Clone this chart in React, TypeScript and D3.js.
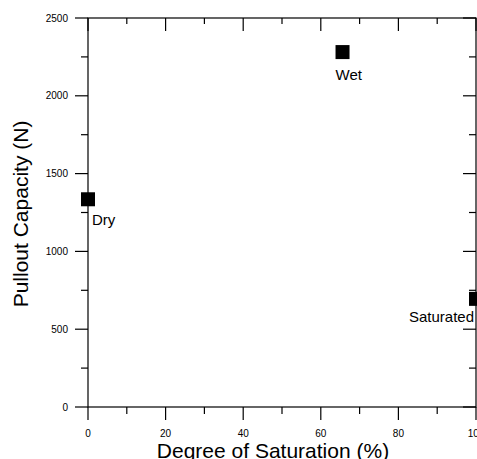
import * as d3 from "d3";
import React from "react";

const labels = ["Dry", "Wet", "Saturated"];
const saturation = [0, 65.6, 100];
const pullout = [1335, 2281, 695];
const xTicks = [0, 20, 40, 60, 80, 100];
const yTicks = [0, 500, 1000, 1500, 2000, 2500];

export default function App() {
  const width = 477;
  const height = 459;
  const m = { left: 88, right: 476, top: 18, bottom: 407 };

  const x = d3.scaleLinear().domain([0, 100]).range([m.left, m.right]);
  const y = d3.scaleLinear().domain([0, 2500]).range([m.bottom, m.top]);

  const xMinor = d3.range(10, 100, 20);
  const yMinor = d3.range(250, 2500, 500);
  const font = "'Liberation Sans', Arial, sans-serif";
  const sq = 14;

  // label offsets relative to each point
  const labelPos = [
    { dx: 4, dy: 26, anchor: "start" },
    { dx: -7, dy: 28, anchor: "start" },
    { dx: -2, dy: 23, anchor: "end" },
  ];

  return (
    <svg width={width} height={height} style={{ position: "absolute", left: 0, top: 0 }}>
      <rect x={0} y={0} width={width} height={height} fill="#fff" />
      <g stroke="#000" strokeWidth={1.2} fill="none">
        <rect x={m.left} y={m.top} width={m.right - m.left} height={m.bottom - m.top} />
        {xTicks.map((t) => (
          <g key={"xt" + t}>
            <line x1={x(t)} x2={x(t)} y1={m.bottom} y2={m.bottom + 13} />
            <line x1={x(t)} x2={x(t)} y1={m.top} y2={m.top + 13} />
          </g>
        ))}
        {xMinor.map((t) => (
          <g key={"xm" + t}>
            <line x1={x(t)} x2={x(t)} y1={m.bottom} y2={m.bottom + 7} />
            <line x1={x(t)} x2={x(t)} y1={m.top} y2={m.top + 6} />
          </g>
        ))}
        {yTicks.map((t) => (
          <g key={"yt" + t}>
            <line x1={m.left - 13} x2={m.left} y1={y(t)} y2={y(t)} />
            <line x1={m.right - 13} x2={m.right} y1={y(t)} y2={y(t)} />
          </g>
        ))}
        {yMinor.map((t) => (
          <g key={"ym" + t}>
            <line x1={m.left - 7} x2={m.left} y1={y(t)} y2={y(t)} />
            <line x1={m.right - 7} x2={m.right} y1={y(t)} y2={y(t)} />
          </g>
        ))}
      </g>
      <g fontFamily={font} fontSize={10} fill="#000">
        {xTicks.map((t) => (
          <text key={"xl" + t} x={x(t)} y={437} textAnchor="middle">
            {t}
          </text>
        ))}
        {yTicks.map((t) => (
          <text key={"yl" + t} x={68} y={y(t) + 3.5} textAnchor="end">
            {t}
          </text>
        ))}
      </g>
      {labels.map((l, i) => (
        <g key={l}>
          <rect
            x={x(saturation[i]) - sq / 2}
            y={y(pullout[i]) - sq / 2}
            width={sq}
            height={sq}
            fill="#000"
          />
          <text
            x={x(saturation[i]) + labelPos[i].dx}
            y={y(pullout[i]) + labelPos[i].dy}
            textAnchor={labelPos[i].anchor}
            fontFamily={font}
            fontSize={15}
          >
            {l}
          </text>
        </g>
      ))}
      <text x={273} y={458} textAnchor="middle" fontFamily={font} fontSize={21}>
        Degree of Saturation (%)
      </text>
      <text
        transform={`translate(28, 214) rotate(-90)`}
        textAnchor="middle"
        fontFamily={font}
        fontSize={21}
      >
        Pullout Capacity (N)
      </text>
    </svg>
  );
}
